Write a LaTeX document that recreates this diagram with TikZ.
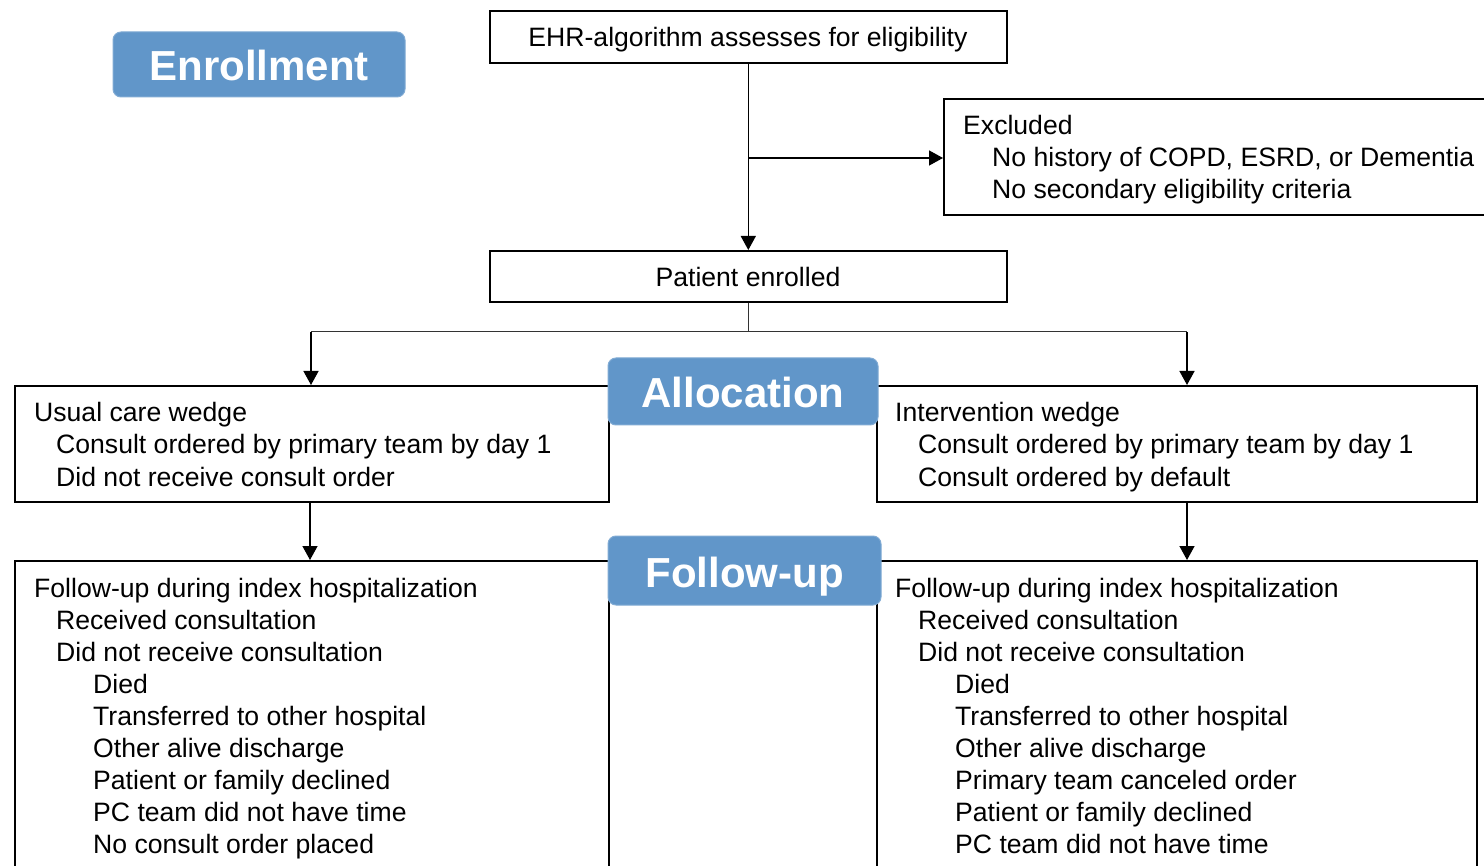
\documentclass[tikz,border=0pt]{standalone}
\usepackage{fontspec}
\setmainfont{Liberation Sans}
\usetikzlibrary{arrows.meta}
\definecolor{stagefill}{RGB}{97,150,201}
\begin{document}
\begin{tikzpicture}[x=1pt,y=-1pt,
  box/.style={draw=black,line width=1.6pt,anchor=north west,inner sep=0pt,fill=white},
  txt/.style={anchor=base west,inner sep=0pt,font=\fontsize{26.6}{30}\selectfont},
  ctxt/.style={anchor=base,inner sep=0pt,font=\fontsize{26.6}{30}\selectfont},
  stage/.style={fill=stagefill,draw=stagefill!80!white,line width=1pt,rounded corners=8pt,
    text=white,font=\fontsize{42}{46}\selectfont\bfseries,inner sep=0pt,
    text height=33pt,text depth=0pt},
  arr/.style={draw=black,line width=1.4pt,-{Triangle[length=14pt,width=15pt]}},
  link/.style={draw=black!80,line width=1pt}]
\useasboundingbox (0,0) rectangle (1484,866);
\clip (0,0) rectangle (1484,866);
\fill[white] (0,0) rectangle (1484,866);

% boxes
\node[box,minimum width=517pt,minimum height=52pt] (ehr) at (489,10) {};
\node[box,minimum width=560pt,minimum height=116pt] (exc) at (943,98) {};
\node[box,minimum width=517pt,minimum height=51pt] (pe) at (489,250) {};
\node[box,minimum width=594pt,minimum height=116pt] (uc) at (14,385) {};
\node[box,minimum width=600pt,minimum height=116pt] (iw) at (876,385) {};
\node[box,minimum width=594pt,minimum height=340pt] (fl) at (14,560) {};
\node[box,minimum width=600pt,minimum height=340pt] (fr) at (876,560) {};

% texts
\node[ctxt] (ehrt) at (748,47) {EHR-algorithm assesses for eligibility};
\node[ctxt] (pet) at (748,287) {Patient enrolled};

\node[txt] (ex0) at (963,135) {Excluded};
\node[txt] (ex1) at (992,167) {No history of COPD, ESRD, or Dementia};
\node[txt] (ex2) at (992,199) {No secondary eligibility criteria};

\node[txt] (uc0) at (34,422) {Usual care wedge};
\node[txt] (uc1) at (56,454) {Consult ordered by primary team by day 1};
\node[txt] (uc2) at (56,486) {Did not receive consult order};

\node[txt] (iw0) at (895,422) {Intervention wedge};
\node[txt] (iw1) at (918,454) {Consult ordered by primary team by day 1};
\node[txt] (iw2) at (918,486) {Consult ordered by default};

\node[txt] (fl0) at (34,597) {Follow-up during index hospitalization};
\node[txt] (fl1) at (56,629) {Received consultation};
\node[txt] (fl2) at (56,661) {Did not receive consultation};
\node[txt] (fl3) at (93,693) {Died};
\node[txt] (fl4) at (93,725) {Transferred to other hospital};
\node[txt] (fl5) at (93,757) {Other alive discharge};
\node[txt] (fl6) at (93,789) {Patient or family declined};
\node[txt] (fl7) at (93,821) {PC team did not have time};
\node[txt] (fl8) at (93,853) {No consult order placed};

\node[txt] (fr0) at (895,597) {Follow-up during index hospitalization};
\node[txt] (fr1) at (918,629) {Received consultation};
\node[txt] (fr2) at (918,661) {Did not receive consultation};
\node[txt] (fr3) at (955,693) {Died};
\node[txt] (fr4) at (955,725) {Transferred to other hospital};
\node[txt] (fr5) at (955,757) {Other alive discharge};
\node[txt] (fr6) at (955,789) {Primary team canceled order};
\node[txt] (fr7) at (955,821) {Patient or family declined};
\node[txt] (fr8) at (955,853) {PC team did not have time};

% connectors
\draw[arr] (ehr.south) -- (pe.north);
\coordinate (br) at (748,158);
\draw[arr] (br) -- (br -| exc.west);

\coordinate (sl) at (311,332);
\coordinate (sr) at (1187,332);
\draw[link] (pe.south) -- (pe.south |- sl);
\draw[link] (sl) -- (sr);
\draw[arr] (sl) -- (sl |- uc.north);
\draw[arr] (sr) -- (sr |- iw.north);

\coordinate (dl) at (310,501);
\coordinate (dr) at (1187,501);
\draw[arr] (dl) -- (dl |- fl.north);
\draw[arr] (dr) -- (dr |- fr.north);

% stage labels
\node[stage,minimum width=292pt,minimum height=65pt] (enr) at (259,64.5) {Enrollment};
\node[stage,minimum width=270pt,minimum height=67pt] (alloc) at (743,391.5) {Allocation};
\node[stage,minimum width=273pt,minimum height=69pt] (fup) at (744.5,570.5) {Follow-up};
\end{tikzpicture}
\end{document}
